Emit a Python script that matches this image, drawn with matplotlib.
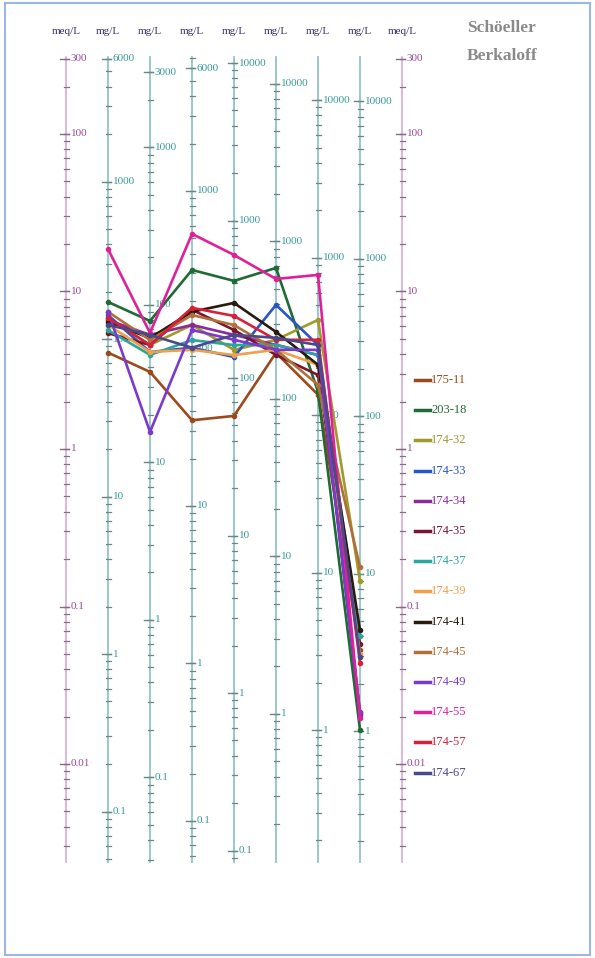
import numpy as np
import matplotlib.pyplot as plt
from matplotlib.patches import Rectangle

W, H = 595, 958          # output size in px
X0, DX = 66, 42          # px position of first scale and spacing between scales
Y1, DEC = 449, 157.5     # px row of 1 meq/L and px per decade

# ion columns (left to right) and equivalent weights g/eq
ions = ['Ca', 'Mg', 'Na', 'Cl', 'SO4', 'HCO3', 'NO3']
eq_weight = [20.04, 12.15, 22.99, 35.45, 48.03, 61.02, 62.0]

meq_labels = [300, 100, 10, 1, 0.1, 0.01]
mg_labels = [
    [6000, 1000, 100, 10, 1, 0.1],
    [3000, 1000, 100, 10, 1, 0.1],
    [6000, 1000, 100, 10, 1, 0.1],
    [10000, 1000, 100, 10, 1, 0.1],
    [10000, 1000, 100, 10, 1],
    [10000, 1000, 100, 10, 1],
    [10000, 1000, 100, 10, 1],
]

samples = ['175-11', '203-18', '174-32', '174-33', '174-34', '174-35', '174-37',
           '174-39', '174-41', '174-45', '174-49', '174-55', '174-57', '174-67']
colors = ['#9c4a1c', '#1f6b35', '#a09a2a', '#2a55c8', '#8b2a9b', '#7a1530', '#2aa5a0',
          '#f0a04a', '#2a1a10', '#b0703a', '#7a3acb', '#e0209a', '#d8203a', '#4a4a8a']

# concentrations in mg/L, one value per sample
ca = [82, 172, 136, 142, 132, 109, 114, 123, 128, 149, 149, 373, 136, 123]
mg = [37.5, 79, 55.6, 50.2, 64.4, 55.6, 48.1, 50.2, 61.6, 59.8, 15.6, 66.3, 55.6, 64.4]
na = [35, 315, 141, 101, 141, 176, 113, 98, 171, 163, 131, 534, 181, 101]
cl = [57.5, 414, 151, 136, 188, 202, 162, 140, 300, 217, 175, 605, 248, 188]
so4 = [196, 678, 237, 395, 220, 190, 220, 205, 266, 205, 205, 577, 237, 244]
hco3 = [135, 141, 403, 279, 241, 180, 241, 209, 209, 156, 260, 778, 301, 279]
no3 = [3.3, 1.02, 9.0, 1.27, 1.31, 3.6, 4.0, 3.1, 4.4, 11.0, 1.32, 1.21, 2.71, 2.96]

serif = ['Liberation Serif', 'DejaVu Serif']


def fx(px):
    return px / W


def fy(px):
    return 1 - px / H


fig = plt.figure(figsize=(W / 100, H / 100), dpi=100)
ax = fig.add_axes([0, 0, 1, 1])
ax.set_yscale('log')
ax.set_xlim(-X0 / DX, (W - X0) / DX)
ax.set_ylim(10 ** ((Y1 - H) / DEC), 10 ** (Y1 / DEC))
ax.axis('off')

top = 10 ** ((Y1 - 57) / DEC)
bot = 10 ** ((Y1 - 862) / DEC)


def draw_scale(i, w, labels, line_c, tick_c, text_c, head):
    ax.plot([i, i], [bot, top], color=line_c, lw=1.3, zorder=1)
    lo, hi = bot * w, top * w
    for n in range(-3, 6):
        for k in range(1, 10):
            v = k * 10.0 ** n
            if lo <= v <= hi:
                ax.plot([i - 2.5 / DX, i + 2.5 / DX], [v / w, v / w], color=tick_c, lw=0.9, zorder=1)
    for v in labels:
        ax.plot([i - 6 / DX, i + 2.5 / DX], [v / w, v / w], color=tick_c, lw=1.0, zorder=1)
        ax.text(i + 4.5 / DX, v / w, '%g' % v, color=text_c, fontsize=8,
                family=serif, ha='left', va='center')
    fig.text(fx(X0 + i * DX), fy(32), head, color='#3a2a6a', fontsize=8,
             family=serif, ha='center', va='center')


draw_scale(0, 1.0, meq_labels, '#d8b4d8', '#8a6a8a', '#9a4a9a', 'meq/L')
for c in range(len(ions)):
    draw_scale(c + 1, eq_weight[c], mg_labels[c], '#92c4c4', '#6a8888', '#3a9a9a', 'mg/L')
draw_scale(8, 1.0, meq_labels, '#d8b4d8', '#8a6a8a', '#9a4a9a', 'meq/L')

# sample lines, converted to meq/L
table = [ca, mg, na, cl, so4, hco3, no3]
xs = np.arange(1, len(ions) + 1)
for j, name in enumerate(samples):
    ys = [table[c][j] / eq_weight[c] for c in range(len(ions))]
    ax.plot(xs, ys, color=colors[j], lw=1.9, marker='o', ms=3, zorder=3)

# legend
for j, name in enumerate(samples):
    yy = 380 + j * 30.2
    fig.add_artist(plt.Line2D([fx(415), fx(430)], [fy(yy), fy(yy)],
                              color=colors[j], lw=2.5))
    fig.text(fx(431), fy(yy), name, color=colors[j], fontsize=9,
             family=serif, ha='left', va='center')

fig.text(fx(467), fy(28), 'Schöeller', color='#8a8a8a', fontsize=12.5,
         family=serif, fontweight='bold', ha='left', va='center')
fig.text(fx(467), fy(56), 'Berkaloff', color='#8a8a8a', fontsize=12.5,
         family=serif, fontweight='bold', ha='left', va='center')

fig.add_artist(Rectangle((fx(5), fy(955)), fx(585), (952) / H, fill=False,
                         edgecolor='#9ab8e0', lw=1.5, transform=fig.transFigure))

fig.savefig('out.png', dpi=100)
